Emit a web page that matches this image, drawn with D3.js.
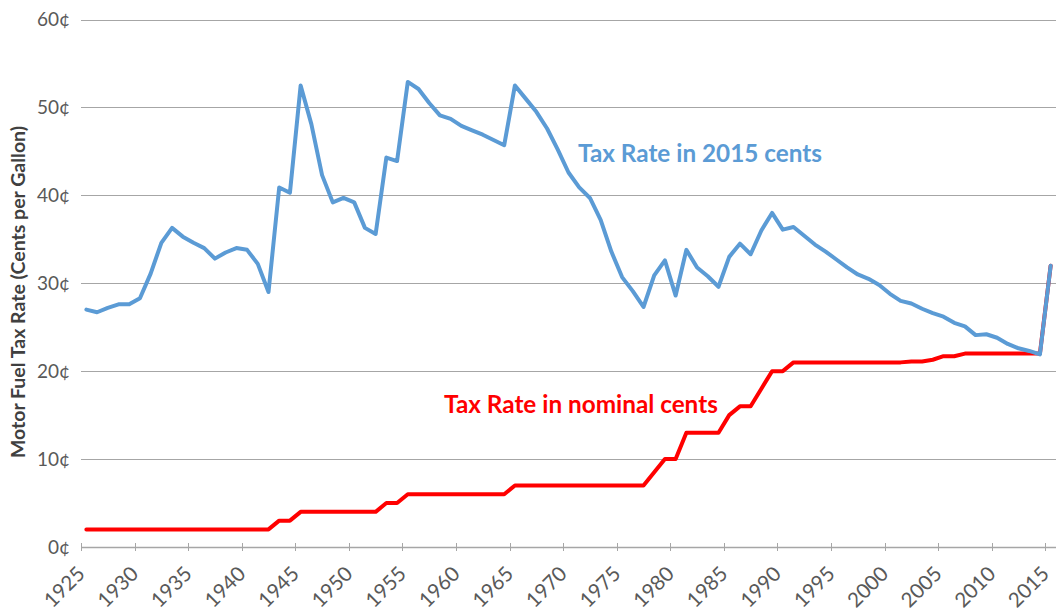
<!DOCTYPE html>
<html>
<head>
<meta charset="utf-8">
<script src="https://cdn.jsdelivr.net/npm/d3@7"></script>
<style>
  body { margin: 0; background: #fff; }
  svg { font-family: Lato, "Open Sans", sans-serif; }
</style>
</head>
<body>
<svg id="chart" width="1059" height="614"></svg>
<script>
'use strict';
// motor fuel tax rate, 1925-2015

const years = d3.range(1925, 2016);

// tax rate in 2015 cents (per gallon)
const realRate = [
  27.0, 26.7, 27.2, 27.6, 27.6, 28.3, 31.1, 34.6, 36.3, 35.3,
  34.6, 34.0, 32.8, 33.5, 34.0, 33.8, 32.2, 29.0, 40.9, 40.3,
  52.5, 48.1, 42.3, 39.2, 39.7, 39.2, 36.3, 35.6, 44.3, 43.9,
  52.9, 52.1, 50.5, 49.1, 48.7, 47.9, 47.4, 46.9, 46.3, 45.7,
  52.5, 51.0, 49.5, 47.6, 45.2, 42.6, 40.9, 39.7, 37.2, 33.6,
  30.7, 29.1, 27.3, 30.9, 32.6, 28.6, 33.8, 31.8, 30.8, 29.6,
  33.0, 34.5, 33.3, 36.0, 38.0, 36.1, 36.4, 35.4, 34.4, 33.6,
  32.7, 31.8, 31.0, 30.5, 29.8, 28.8, 28.0, 27.7, 27.1, 26.6,
  26.2, 25.5, 25.1, 24.1, 24.2, 23.8, 23.1, 22.6, 22.3, 21.9,
  32.0
];

// tax rate in nominal cents (per gallon)
const nominalRate = [
  2, 2, 2, 2, 2, 2, 2, 2, 2, 2,
  2, 2, 2, 2, 2, 2, 2, 2, 3, 3,
  4, 4, 4, 4, 4, 4, 4, 4, 5, 5,
  6, 6, 6, 6, 6, 6, 6, 6, 6, 6,
  7, 7, 7, 7, 7, 7, 7, 7, 7, 7,
  7, 7, 7, 8.5, 10, 10, 13, 13, 13, 13,
  15, 16, 16, 18, 20, 20, 21, 21, 21, 21,
  21, 21, 21, 21, 21, 21, 21, 21.1, 21.1, 21.3,
  21.7, 21.7, 22, 22, 22, 22, 22, 22, 22, 22,
  32
];

const yTicks = [0, 10, 20, 30, 40, 50, 60];
const xLabelYears = years.filter(y => y % 5 === 0);

const svg = d3.select('#chart');

const xScale = d3.scaleBand()
  .domain(years)
  .range([81, 1056])
  .padding(0);

const yScale = d3.scaleLinear()
  .domain([0, 60])
  .range([547, 19.5]);

const xMid = yr => xScale(yr) + xScale.bandwidth() / 2;

// horizontal gridlines
svg.append('g')
  .selectAll('line')
  .data(yTicks.filter(d => d > 0))
  .enter()
  .append('line')
  .attr('x1', 81)
  .attr('x2', 1056)
  .attr('y1', d => Math.round(yScale(d)) + 0.5)
  .attr('y2', d => Math.round(yScale(d)) + 0.5)
  .attr('stroke', '#a6a6a6')
  .attr('stroke-width', 1);

// y labels
svg.append('g')
  .selectAll('text')
  .data(yTicks)
  .enter()
  .append('text')
  .attr('x', 70)
  .attr('y', d => yScale(d))
  .attr('dy', '0.35em')
  .attr('text-anchor', 'end')
  .attr('font-size', 19)
  .attr('fill', '#595959')
  .text(d => d + '¢');

// x axis with ticks every 5 years, labels rotated
const xAxis = svg.append('g');
xAxis.append('line')
  .attr('x1', 81)
  .attr('x2', 1056)
  .attr('y1', 547.5)
  .attr('y2', 547.5)
  .attr('stroke', '#a6a6a6')
  .attr('stroke-width', 1.5);

xAxis.selectAll('line.tick')
  .data(xLabelYears)
  .enter()
  .append('line')
  .attr('class', 'tick')
  .attr('x1', d => Math.round(xScale(d)) + 0.5)
  .attr('x2', d => Math.round(xScale(d)) + 0.5)
  .attr('y1', 543)
  .attr('y2', 551)
  .attr('stroke', '#a6a6a6')
  .attr('stroke-width', 1);

xAxis.selectAll('text')
  .data(xLabelYears)
  .enter()
  .append('text')
  .attr('transform', d => `translate(${xScale(d)},570) rotate(-45)`)
  .attr('text-anchor', 'end')
  .attr('dy', '0.35em')
  .attr('font-size', 20.5)
  .attr('fill', '#595959')
  .text(d => d);

// y axis title
svg.append('text')
  .attr('transform', 'translate(25,292) rotate(-90)')
  .attr('text-anchor', 'middle')
  .attr('font-size', 19.5)
  .attr('font-weight', 'bold')
  .attr('fill', '#404040')
  .text('Motor Fuel Tax Rate (Cents per Gallon)');

const line = d3.line()
  .x((d, i) => xMid(years[i]))
  .y(d => yScale(d));

svg.append('path')
  .datum(nominalRate)
  .attr('d', line)
  .attr('fill', 'none')
  .attr('stroke', '#ff0000')
  .attr('stroke-width', 4)
  .attr('stroke-linejoin', 'round')
  .attr('stroke-linecap', 'round');

svg.append('path')
  .datum(realRate)
  .attr('d', line)
  .attr('fill', 'none')
  .attr('stroke', '#5b9bd5')
  .attr('stroke-width', 4)
  .attr('stroke-linejoin', 'round')
  .attr('stroke-linecap', 'round');

// series labels
svg.append('text')
  .attr('x', 578)
  .attr('y', 162)
  .attr('font-size', 24.3)
  .attr('font-weight', 'bold')
  .attr('fill', '#5b9bd5')
  .text('Tax Rate in 2015 cents');

svg.append('text')
  .attr('x', 444)
  .attr('y', 413)
  .attr('font-size', 24.3)
  .attr('font-weight', 'bold')
  .attr('fill', '#ff0000')
  .text('Tax Rate in nominal cents');
</script>
</body>
</html>
